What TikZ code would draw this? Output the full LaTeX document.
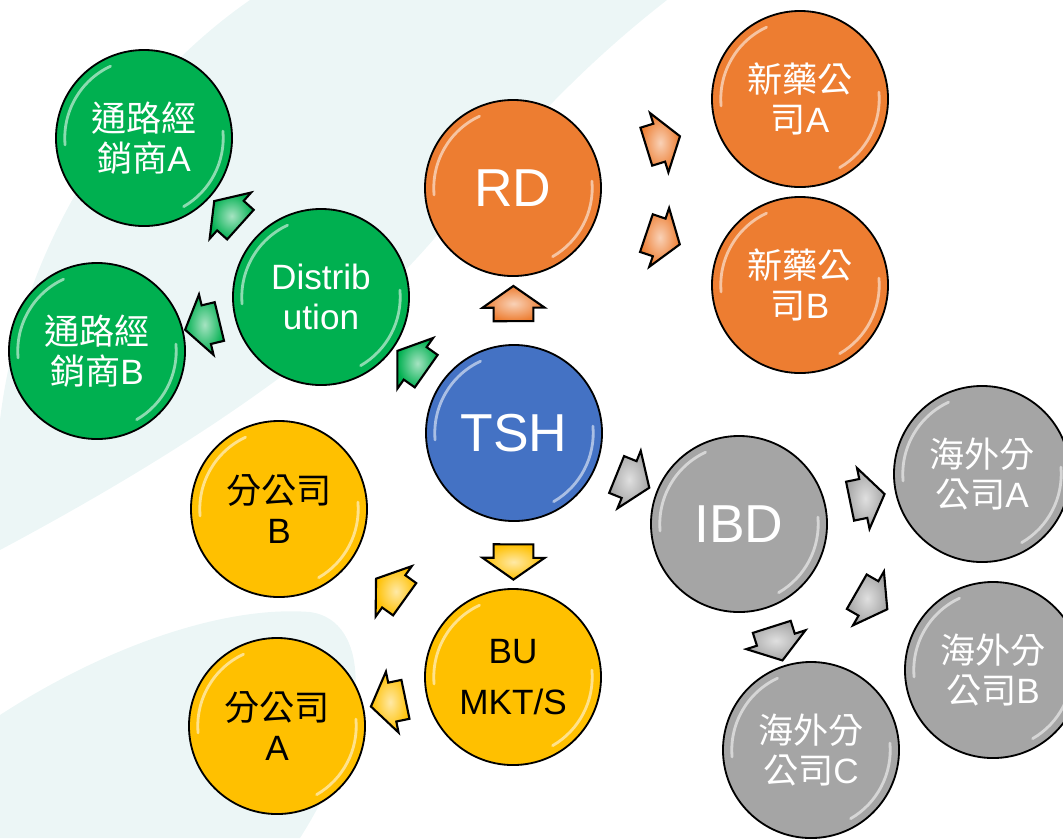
\documentclass[tikz,border=0pt]{standalone}
\usepackage{fontspec}
\setmainfont{Liberation Sans}
\newfontfamily\cjk{Noto Sans CJK TC}
\usetikzlibrary{shapes.arrows}

\definecolor{tshblue}{RGB}{68,114,196}
\definecolor{rdorange}{RGB}{237,125,49}
\definecolor{distgreen}{RGB}{0,176,80}
\definecolor{ibdgray}{RGB}{165,165,165}
\definecolor{bugold}{RGB}{255,192,0}
\definecolor{bgcyan}{RGB}{236,246,246}

\tikzset{
  ball/.style={circle, draw=black, line width=1.3pt, minimum size=4.4cm, inner sep=0pt, align=center, text=white,
    font=\fontsize{25}{28}\selectfont,
    path picture={
      \draw[white, opacity=.55, line width=2pt, line cap=round] (path picture bounding box.center) ++(115:1.98cm) arc[start angle=115, end angle=185, radius=1.98cm];
      \draw[white, opacity=.55, line width=2pt, line cap=round] (path picture bounding box.center) ++(-60:1.98cm) arc[start angle=-60, end angle=5, radius=1.98cm];}},
  bigtext/.style={font=\fontsize{38}{40}\selectfont},
  blk/.style={single arrow, draw=black, line width=1.5pt, minimum size=0pt, inner xsep=.24cm, inner ysep=.47cm,
    single arrow head extend=.28cm, single arrow tip angle=110, sloped, allow upside down,
    shading=radial, inner color=#1!35!white, outer color=#1}
}

\begin{document}
\begin{tikzpicture}[x=0.025cm, y=-0.025cm]
\useasboundingbox (0,0) rectangle (1063,838);
% background swooshes
\fill [bgcyan] (250,0) .. controls (120,90) and (20,250) .. (0,420) -- (0,550) .. controls (150,470) and (330,360) .. (433,240) .. controls (520,130) and (590,60) .. (667,0) -- cycle;
\fill [bgcyan] (0,715) .. controls (100,650) and (220,605) .. (310,612) .. controls (370,620) and (375,720) .. (300,838) -- (0,838) -- cycle;

\node [ball, fill=tshblue, bigtext] (tsh) at (514,433) {TSH};
\node [ball, fill=rdorange, bigtext] (rd) at (513,188) {RD};
\node [ball, fill=rdorange] (drugA) at (800,99) {{\cjk 新藥公}\\{\cjk 司}A};
\node [ball, fill=rdorange] (drugB) at (800,285) {{\cjk 新藥公}\\{\cjk 司}B};
\node [ball, fill=distgreen] (dist) at (321,297) {Distrib\\ution};
\node [ball, fill=distgreen] (chanA) at (144,138) {{\cjk 通路經}\\{\cjk 銷商}A};
\node [ball, fill=distgreen] (chanB) at (97,351) {{\cjk 通路經}\\{\cjk 銷商}B};
\node [ball, fill=bugold, text=black] (bu) at (513,677) {BU\\[8pt]MKT/S};
\node [ball, fill=bugold, text=black] (brB) at (279,509) {{\cjk 分公司}\\B};
\node [ball, fill=bugold, text=black] (brA) at (277,726) {{\cjk 分公司}\\A};
\node [ball, fill=ibdgray, bigtext] (ibd) at (739,524) {IBD};
\node [ball, fill=ibdgray] (osA) at (982,474) {{\cjk 海外分}\\{\cjk 公司}A};
\node [ball, fill=ibdgray] (osB) at (993,670) {{\cjk 海外分}\\{\cjk 公司}B};
\node [ball, fill=ibdgray] (osC) at (811,750) {{\cjk 海外分}\\{\cjk 公司}C};

% block arrows between the balls
\path (tsh) -- node [blk=rdorange] {} (rd);
\path (rd) -- node [blk=rdorange] {} (drugA);
\path (rd) -- node [blk=rdorange] {} (drugB);
\path (tsh) -- node [blk=distgreen] {} (dist);
\path (dist) -- node [blk=distgreen] {} (chanA);
\path (dist) -- node [blk=distgreen] {} (chanB);
\path (tsh) -- node [blk=ibdgray] {} (ibd);
\path (ibd) -- node [blk=ibdgray] {} (osA);
\path (ibd) -- node [blk=ibdgray] {} (osB);
\path (ibd) -- node [blk=ibdgray] {} (osC);
\path (tsh) -- node [blk=bugold] {} (bu);
\path (bu) -- node [blk=bugold] {} (brB);
\path (bu) -- node [blk=bugold] {} (brA);
\end{tikzpicture}
\end{document}
